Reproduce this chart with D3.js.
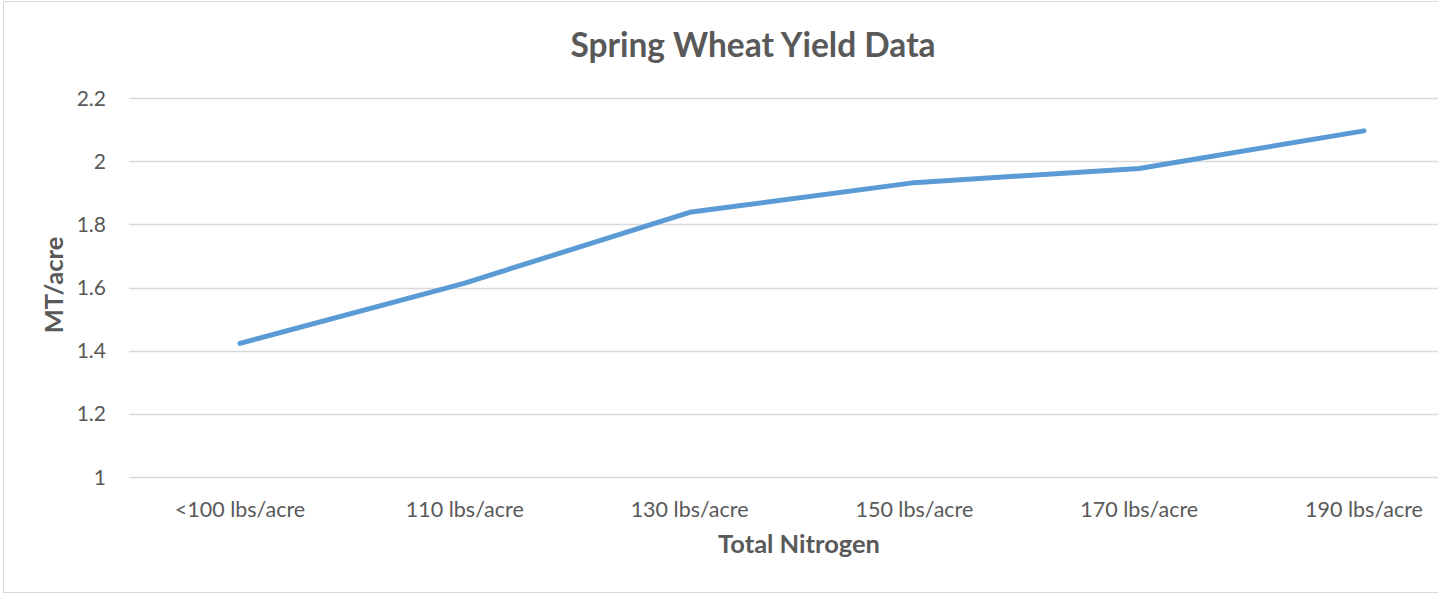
<!DOCTYPE html>
<html><head><meta charset="utf-8">
<script src="https://cdn.jsdelivr.net/npm/d3@7"></script>
<style>html,body{margin:0;padding:0;background:#fff;overflow:hidden}</style>
</head><body>
<svg id="chart" width="1438" height="595"></svg>
<script>
const categories = ["<100 lbs/acre","110 lbs/acre","130 lbs/acre","150 lbs/acre","170 lbs/acre","190 lbs/acre"];
const yieldValues = [1.423, 1.614, 1.838, 1.932, 1.977, 2.096];
const yTicks = [1, 1.2, 1.4, 1.6, 1.8, 2, 2.2];
const titleText = "Spring Wheat Yield Data";
const xTitle = "Total Nitrogen";
const yTitle = "MT/acre";

const svg = d3.select("#chart");
const font = "Lato, 'Open Sans', sans-serif";
const textColor = "#595959";

// chart border
svg.append("rect").attr("x",3.5).attr("y",1.5).attr("width",1450).attr("height",591)
  .attr("fill","#fff").attr("stroke","#d9d9d9").attr("stroke-width",1);

const x = d3.scaleBand().domain(categories).range([127.6, 127.6 + 6*224.8]).padding(0);
const y = d3.scaleLinear().domain([1, 2.2]).range([477, 98]);

// gridlines
svg.append("g").selectAll("line").data(yTicks).join("line")
  .attr("x1",129).attr("x2",1438)
  .attr("y1",d=>Math.round(y(d))+0.5).attr("y2",d=>Math.round(y(d))+0.5)
  .attr("stroke","#d9d9d9").attr("stroke-width",1.5);

// y tick labels
svg.append("g").selectAll("text").data(yTicks).join("text")
  .attr("x",106).attr("y",d=>y(d)).attr("dy","0.36em")
  .attr("text-anchor","end").attr("font-family",font).attr("font-size",21)
  .attr("fill",textColor).text(d=>d3.format("~g")(d));

// x tick labels
svg.append("g").selectAll("text").data(categories).join("text")
  .attr("x",d=>x(d)+x.bandwidth()/2).attr("y",517)
  .attr("text-anchor","middle").attr("font-family",font).attr("font-size",21.5)
  .attr("fill",textColor).text(d=>d);

// line
const line = d3.line().x((d,i)=>x(categories[i])+x.bandwidth()/2).y(d=>y(d));
svg.append("path").datum(yieldValues).attr("d",line)
  .attr("fill","none").attr("stroke","#5B9BD5").attr("stroke-width",5)
  .attr("stroke-linecap","round").attr("stroke-linejoin","round");

// title
svg.append("text").attr("x",753).attr("y",57).attr("text-anchor","middle")
  .attr("font-family",font).attr("font-weight","bold").attr("font-size",33.5)
  .attr("fill",textColor).text(titleText);

// axis titles
svg.append("text").attr("x",799).attr("y",553).attr("text-anchor","middle")
  .attr("font-family",font).attr("font-weight","bold").attr("font-size",25.5)
  .attr("fill",textColor).text(xTitle);
svg.append("text").attr("transform","translate(63,285) rotate(-90)").attr("text-anchor","middle")
  .attr("font-family",font).attr("font-weight","bold").attr("font-size",25.5)
  .attr("fill",textColor).text(yTitle);
</script>
</body></html>
